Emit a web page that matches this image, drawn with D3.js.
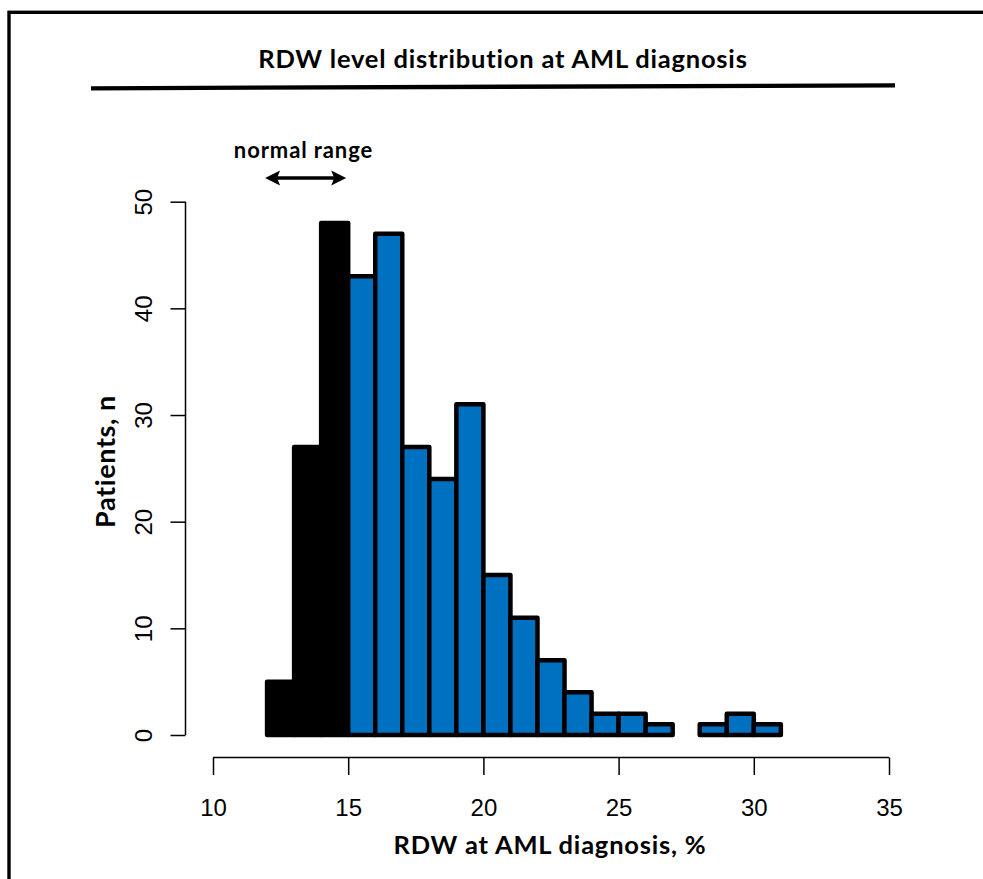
<!DOCTYPE html>
<html>
<head>
<meta charset="utf-8">
<script src="https://cdn.jsdelivr.net/npm/d3@7"></script>
<style>
  html, body { margin: 0; padding: 0; background: #fff; }
  svg { display: block; }
</style>
</head>
<body>
<svg id="chart" width="983" height="879"></svg>
<script>
  'use strict';

  // histogram bins: left edges, width 1
  const binStarts = [12, 13, 14, 15, 16, 17, 18, 19, 20, 21, 22, 23, 24, 25, 26, 27, 28, 29, 30];
  const binCounts = [5, 27, 48, 43, 47, 27, 24, 31, 15, 11, 7, 4, 2, 2, 1, 0, 1, 2, 1];
  const binWidth = 1;
  const normalRange = [12, 15];
  const xTicks = [10, 15, 20, 25, 30, 35];
  const yTicks = [0, 10, 20, 30, 40, 50];

  const titleText = 'RDW level distribution at AML diagnosis';
  const xLabel = 'RDW at AML diagnosis, %';
  const yLabel = 'Patients, n';
  const rangeLabel = 'normal range';

  const svg = d3.select('#chart');
  const boldFont = 'Lato, "Open Sans", sans-serif';
  const tickFont = '"Liberation Sans", Arial, sans-serif';

  function boldText(sel, size, spacing) {
    return sel
      .attr('font-family', boldFont).attr('font-weight', 700)
      .attr('font-size', size)
      .attr('letter-spacing', spacing)
      .style('font-variant-ligatures', 'none');
  }

  // outer frame (open to the right and bottom)
  svg.append('rect')
    .attr('x', 9).attr('y', 12.3)
    .attr('width', 1000).attr('height', 900)
    .attr('fill', 'none').attr('stroke', '#000').attr('stroke-width', 3.4);

  // title and underline
  boldText(svg.append('text'), 25.5, 0.8)
    .attr('x', 503).attr('y', 68.3)
    .attr('text-anchor', 'middle')
    .text(titleText);
  svg.append('line')
    .attr('x1', 91).attr('y1', 88.3).attr('x2', 895).attr('y2', 85.3)
    .attr('stroke', '#000').attr('stroke-width', 4.3);

  const x = d3.scaleLinear().domain([10, 35]).range([213, 889]);
  const y = d3.scaleLinear().domain([0, 50]).range([735, 201.7]);

  // x axis (R style, detached from the bars)
  const xAxis = svg.append('g')
    .attr('transform', 'translate(0,757.5)')
    .call(d3.axisBottom(x).tickValues(xTicks).tickSize(17.5).tickFormat(d3.format('d')));
  xAxis.select('.domain').attr('d', 'M' + x(10) + ',0H' + x(35)).attr('stroke-width', 1.5);
  xAxis.selectAll('.tick line').attr('stroke-width', 1.5);
  xAxis.selectAll('.tick text')
    .attr('font-family', tickFont).attr('font-size', 24).attr('fill', '#000')
    .attr('y', 58.5).attr('dy', 0);

  // y axis
  const yAxis = svg.append('g')
    .attr('transform', 'translate(185.5,0)')
    .call(d3.axisLeft(y).tickValues(yTicks).tickSize(15).tickFormat(d3.format('d')));
  yAxis.select('.domain').attr('d', 'M0,' + y(0) + 'V' + y(50)).attr('stroke-width', 1.5);
  yAxis.selectAll('.tick line').attr('stroke-width', 1.5);
  yAxis.selectAll('.tick text')
    .attr('font-family', tickFont).attr('font-size', 24).attr('fill', '#000')
    .attr('text-anchor', 'middle')
    .attr('x', 0).attr('dy', 0)
    .attr('transform', 'translate(-33.5,0) rotate(-90)');

  // bars
  const bars = binStarts.map(function (s, i) {
    return { x0: s, x1: s + binWidth, n: binCounts[i] };
  });
  svg.append('g').selectAll('rect')
    .data(bars)
    .join('rect')
    .attr('x', function (d) { return x(d.x0); })
    .attr('y', function (d) { return y(d.n); })
    .attr('width', function (d) { return x(d.x1) - x(d.x0); })
    .attr('height', function (d) { return y(0) - y(d.n); })
    .attr('fill', function (d) { return d.x0 < normalRange[1] ? '#000' : '#0070C0'; })
    .attr('stroke', '#000')
    .attr('stroke-width', function (d) { return d.n === 0 ? 1.5 : 4.5; })
    .attr('stroke-linejoin', 'round');

  // normal range annotation
  boldText(svg.append('text'), 22, 0.9)
    .attr('x', 303.5).attr('y', 158.3)
    .attr('text-anchor', 'middle')
    .text(rangeLabel);
  const ax0 = x(normalRange[0]) - 2;
  const ax1 = x(normalRange[1]) - 2;
  const ay = 178;
  svg.append('line')
    .attr('x1', ax0 + 8).attr('x2', ax1 - 8).attr('y1', ay).attr('y2', ay)
    .attr('stroke', '#000').attr('stroke-width', 3.5);
  svg.append('path')
    .attr('d', 'M' + ax0 + ',' + ay + 'L' + (ax0 + 15) + ',' + (ay - 7.5) + 'L' + (ax0 + 12) + ',' + ay + 'L' + (ax0 + 15) + ',' + (ay + 7.5) + 'Z')
    .attr('fill', '#000');
  svg.append('path')
    .attr('d', 'M' + ax1 + ',' + ay + 'L' + (ax1 - 15) + ',' + (ay - 7.5) + 'L' + (ax1 - 12) + ',' + ay + 'L' + (ax1 - 15) + ',' + (ay + 7.5) + 'Z')
    .attr('fill', '#000');

  // axis titles
  boldText(svg.append('text'), 25.5, 0.8)
    .attr('x', 550).attr('y', 853.5)
    .attr('text-anchor', 'middle')
    .text(xLabel);
  boldText(svg.append('text'), 27, 0.6)
    .attr('transform', 'translate(115,461.5) rotate(-90)')
    .attr('text-anchor', 'middle')
    .text(yLabel);
</script>
</body>
</html>
